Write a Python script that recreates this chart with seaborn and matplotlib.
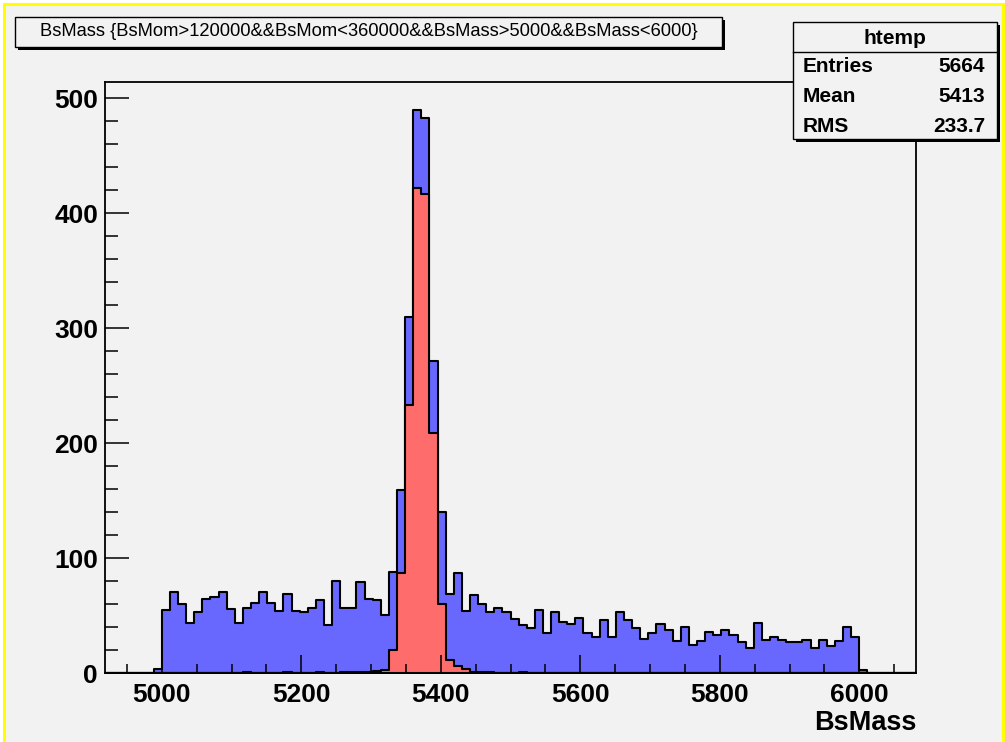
import numpy as np
import pandas as pd
import matplotlib
matplotlib.use("Agg")
import matplotlib.pyplot as plt
from matplotlib.patches import Rectangle
from matplotlib.lines import Line2D
from matplotlib.ticker import MultipleLocator
import seaborn as sns

# ---------------- data (ROOT htemp, 100 bins) ----------------
x_min, x_max, n_bins = 4918.5, 6081.3, 100
first_bin = 6  # index of first non-empty bin

all_counts = [
    4, 55, 71, 60, 44, 53, 65, 66, 71, 56,
    44, 57, 61, 71, 61, 54, 69, 54, 53, 57,
    64, 42, 80, 57, 57, 79, 65, 64, 51, 88,
    159, 310, 490, 483, 272, 140, 69, 87, 54, 68,
    60, 53, 57, 53, 47, 42, 39, 55, 35, 53,
    45, 43, 48, 35, 32, 46, 32, 53, 46, 39,
    30, 35, 43, 38, 28, 40, 25, 28, 36, 33,
    38, 33, 27, 22, 44, 29, 32, 29, 27, 27,
    29, 22, 29, 24, 28, 40, 32, 3,
]
signal_counts = [
    0, 0, 0, 0, 0, 0, 0, 0, 0, 0,
    0, 1, 0, 0, 0, 0, 1, 0, 0, 0,
    1, 0, 0, 1, 1, 1, 1, 2, 3, 20,
    87, 233, 422, 417, 209, 60, 12, 6, 4, 1,
    1, 1, 0, 0, 0, 1, 0, 0, 0, 0,
    0, 0, 0, 0, 0, 0, 0, 0, 0, 0,
    0, 0, 0, 0, 0, 0, 0, 0, 0, 0,
    0, 0, 0, 0, 0, 0, 0, 0, 0, 0,
    0, 0, 0, 0, 0, 0, 0, 0,
]

title_text = "BsMass {BsMom>120000&&BsMom<360000&&BsMass>5000&&BsMass<6000}"
x_title = "BsMass"
stats_name = "htemp"
stats_rows = [("Entries", "5664"), ("Mean", "5413"), ("RMS", "233.7")]

# ---------------- build arrays ----------------
edges = np.linspace(x_min, x_max, n_bins + 1)
centers = 0.5 * (edges[:-1] + edges[1:])
full_all = np.zeros(n_bins)
full_all[first_bin:first_bin + len(all_counts)] = all_counts
full_sig = np.zeros(n_bins)
full_sig[first_bin:first_bin + len(signal_counts)] = signal_counts
df = pd.DataFrame({"mass": centers, "all": full_all, "signal": full_sig})

# ---------------- figure ----------------
W, H = 1005, 742
BG = "#f2f2f2"
FONT = "Liberation Sans"
fig = plt.figure(figsize=(W / 100, H / 100), dpi=100, facecolor="white")


def fx(px):
    return px / W


def fy(py):
    return 1 - py / H


# canvas with yellow border
fig.patches.append(Rectangle((fx(4), -0.02), fx(1003) - fx(4), fy(4) + 0.02,
                             transform=fig.transFigure, facecolor=BG,
                             edgecolor="#ffff00", linewidth=2.2, zorder=-5))

ax = fig.add_axes([fx(105), fy(673.3), fx(916) - fx(105), fy(81.7) - fy(673.3)])
ax.set_facecolor(BG)

sns.histplot(data=df, x="mass", weights="all", bins=n_bins,
             binrange=(x_min, x_max), element="step",
             fill=True, color="#6868ff", alpha=1, edgecolor="black",
             linewidth=1.5, ax=ax)
sns.histplot(data=df, x="mass", weights="signal", bins=n_bins,
             binrange=(x_min, x_max), element="step",
             fill=True, color="#ff6c6c", alpha=1, edgecolor="black",
             linewidth=1.5, ax=ax)

ax.set_xlim(x_min, x_max)
ax.set_ylim(0, 1.05 * max(all_counts))
ax.set_xlabel("")
ax.set_ylabel("")
ax.set_axisbelow(False)

ax.xaxis.set_major_locator(MultipleLocator(200))
ax.xaxis.set_minor_locator(MultipleLocator(50))
ax.yaxis.set_major_locator(MultipleLocator(100))
ax.yaxis.set_minor_locator(MultipleLocator(20))
ax.tick_params(which="both", direction="in", top=False, right=False,
               width=1.1, color="black")
ax.tick_params(axis="x", which="major", length=13, pad=7)
ax.tick_params(axis="x", which="minor", length=6.5)
ax.tick_params(axis="y", which="major", length=17, pad=5)
ax.tick_params(axis="y", which="minor", length=9.5)
for lab in ax.get_xticklabels() + ax.get_yticklabels():
    lab.set_fontfamily(FONT)
    lab.set_fontweight("bold")
    lab.set_fontsize(19)
for sp in ax.spines.values():
    sp.set_linewidth(1.3)
    sp.set_color("black")

# x axis title
fig.text(fx(916), fy(730), x_title, ha="right", va="baseline",
         fontsize=19.5, fontweight="bold", family=FONT)

# title box with shadow
fig.patches.append(Rectangle((fx(18), fy(50)), fx(725) - fx(18), fy(20) - fy(50),
                             transform=fig.transFigure, facecolor="black",
                             edgecolor="black", linewidth=0, zorder=5))
fig.patches.append(Rectangle((fx(15), fy(47)), fx(722) - fx(15), fy(17) - fy(47),
                             transform=fig.transFigure, facecolor=BG,
                             edgecolor="black", linewidth=1.0, zorder=6))
fig.text(fx(368.5), fy(32), title_text, ha="center", va="center",
         fontsize=13.2, family=FONT, zorder=7)

# stats box with shadow
fig.patches.append(Rectangle((fx(796), fy(142)), fx(1000) - fx(796), fy(25) - fy(142),
                             transform=fig.transFigure, facecolor="black",
                             edgecolor="black", linewidth=0, zorder=5))
fig.patches.append(Rectangle((fx(793), fy(139)), fx(997) - fx(793), fy(22) - fy(139),
                             transform=fig.transFigure, facecolor=BG,
                             edgecolor="black", linewidth=1.0, zorder=6))
fig.lines.append(Line2D([fx(793), fx(997)], [fy(52.3), fy(52.3)],
                        transform=fig.transFigure, color="black", linewidth=1.0,
                        zorder=7))
fig.text(fx(895), fy(44.5), stats_name, ha="center", va="baseline",
         fontsize=15, fontweight="bold", family=FONT, zorder=8)
for i, (k, v) in enumerate(stats_rows):
    base = 71.7 + i * 30
    fig.text(fx(803), fy(base), k, ha="left", va="baseline",
             fontsize=15, fontweight="bold", family=FONT, zorder=8)
    fig.text(fx(985), fy(base), v, ha="right", va="baseline",
             fontsize=15, fontweight="bold", family=FONT, zorder=8)

fig.savefig("out.png", dpi=100, facecolor="white")
